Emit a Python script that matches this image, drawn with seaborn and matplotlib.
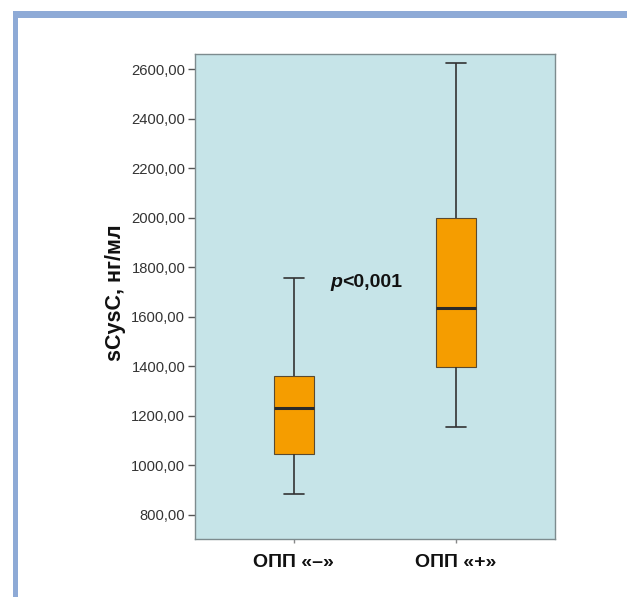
import matplotlib
matplotlib.use("Agg")
import matplotlib.pyplot as plt
from matplotlib.patches import Rectangle
from matplotlib.ticker import FuncFormatter
import pandas as pd
import seaborn as sns

# Groups and five-number summaries (min, Q1, median, Q3, max) of serum cystatin C
groups = ["ОПП «–»", "ОПП «+»"]
summary_neg = [885, 1045, 1230, 1363, 1755]
summary_pos = [1155, 1398, 1635, 2000, 2624]
y_ticks = [800, 1000, 1200, 1400, 1600, 1800, 2000, 2200, 2400, 2600]
p_label = "<0,001"

df = pd.DataFrame({
    "group": [groups[0]] * len(summary_neg) + [groups[1]] * len(summary_pos),
    "value": summary_neg + summary_pos,
})

sns.set_style("white")
plt.rcParams["font.family"] = ["Liberation Sans", "DejaVu Sans"]

fig = plt.figure(figsize=(6.27, 5.97), dpi=100)
ax = fig.add_axes([195 / 627, 1 - 539 / 597, 360 / 627, 485 / 597])
ax.set_facecolor("#c6e4e8")

dark = "#333333"
sns.boxplot(
    data=df, x="group", y="value", ax=ax,
    width=0.25, whis=(0, 100), color="#f59d00", saturation=1,
    linecolor=dark, linewidth=1.0,
    medianprops=dict(color="#2a2a2a", linewidth=2.2),
    whiskerprops=dict(color=dark, linewidth=1.2),
    capprops=dict(color=dark, linewidth=1.2),
    boxprops=dict(edgecolor="#5a4a30", linewidth=0.8),
)

ax.set_xlim(-0.61, 1.61)
ax.set_ylim(703, 2661)
ax.set_yticks(y_ticks)
ax.yaxis.set_major_formatter(FuncFormatter(lambda v, _: f"{v:.2f}".replace(".", ",")))

for s in ax.spines.values():
    s.set_color("#7d8b8e")
    s.set_linewidth(1.0)

ax.tick_params(axis="y", direction="out", length=5, width=1, color="#555555",
               pad=2, labelsize=10.6, labelcolor=dark, left=True)
ax.tick_params(axis="x", direction="out", length=3, width=1, color="#888888",
               pad=8, labelsize=14, labelcolor="#111111", bottom=True)
for lbl in ax.get_xticklabels():
    lbl.set_fontweight("bold")

ax.set_xlabel("")
ax.set_ylabel("sCysC, нг/мл", fontsize=15.5, fontweight="bold", color="#111111")
ax.yaxis.label.set_va("center")
ax.yaxis.set_label_coords(-0.22, 0.507)

# significance annotation
ax.text(0.30, 1722, "p", fontsize=14, fontweight="bold", fontstyle="italic",
        ha="right", va="baseline", color="#111111")
ax.text(0.30, 1722, p_label, fontsize=14, fontweight="bold",
        ha="left", va="baseline", color="#111111")

# page frame: top and left bars
frame = "#8eaad6"
fig.add_artist(Rectangle((13 / 627, 0), 5 / 627, 1 - 11 / 597,
                         transform=fig.transFigure, color=frame, lw=0))
fig.add_artist(Rectangle((13 / 627, 1 - 18 / 597), 1, 7 / 597,
                         transform=fig.transFigure, color=frame, lw=0))

fig.savefig("out.png", dpi=100)
